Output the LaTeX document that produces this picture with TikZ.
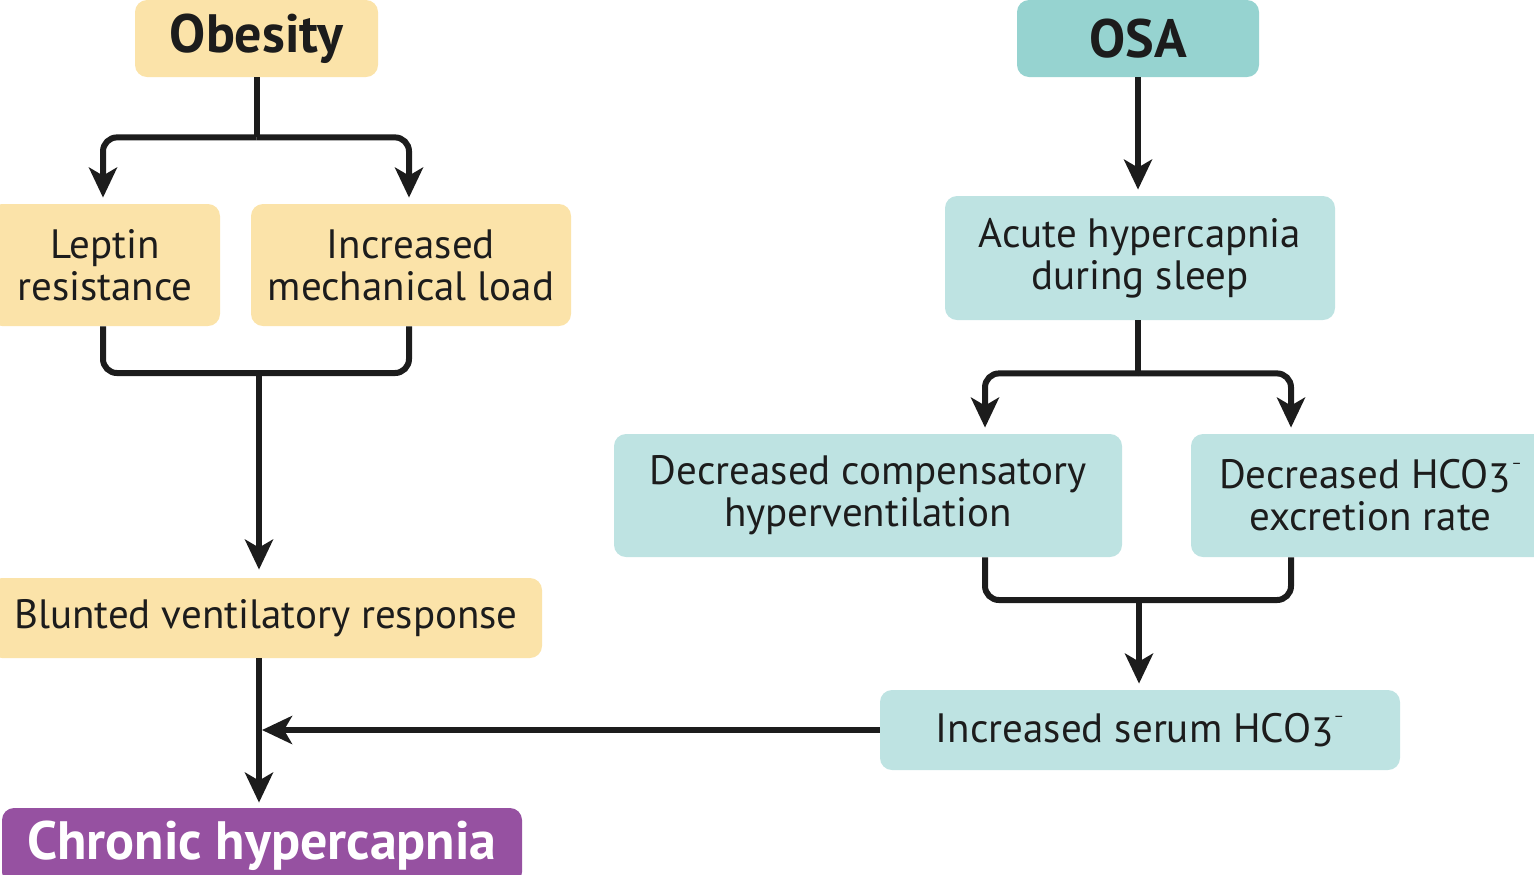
\documentclass[tikz,border=0pt]{standalone}
\usepackage{fontspec}
\setmainfont{PT Sans}
\usetikzlibrary{arrows.meta}
\definecolor{yel}{HTML}{FBE3A9}
\definecolor{tealA}{HTML}{96D3D0}
\definecolor{tealB}{HTML}{BEE3E2}
\definecolor{purp}{HTML}{9651A1}
\definecolor{ink}{HTML}{1C1C1C}
\tikzset{
  box/.style={rounded corners=6pt, inner sep=0pt, align=center, text=ink,
    font=\fontsize{20.5}{21}\selectfont},
  ybox/.style={box, fill=yel},
  tbox/.style={box, fill=tealB},
  ttl/.style={font=\fontsize{27}{28}\selectfont\bfseries},
  ln/.style={draw=ink, line width=3pt, rounded corners=7pt},
  arr/.style={ln, -{Stealth[length=15pt,width=14pt,inset=4pt]}, shorten >=3pt},
}
\newcommand{\hco}{HCO\raisebox{-0.2ex}{3}\raisebox{1.0ex}{\footnotesize –}}
\begin{document}
\begin{tikzpicture}[x=0.5pt,y=-0.5pt]
\clip (0,0) rectangle (1534,874);
\node[ybox, ttl, minimum width=121.5pt, minimum height=38.5pt] (obesity) at (256.5,38.5) {Obesity};
\node[box, ttl, fill=tealA, minimum width=121pt, minimum height=38.5pt] (osa) at (1138,38.5) {OSA};
\node[ybox, minimum width=115pt, minimum height=61pt] (leptin) at (105,265) {Leptin\\resistance};
\node[ybox, minimum width=160pt, minimum height=61pt] (load) at (411,265) {Increased\\mechanical load};
\node[ybox, minimum width=276pt, minimum height=40pt] (blunted) at (266,618) {Blunted ventilatory response};
\node[box, ttl, fill=purp, text=white, minimum width=260pt, minimum height=38pt] (chronic) at (262,846) {Chronic hypercapnia};
\node[tbox, minimum width=195pt, minimum height=62pt] (acute) at (1140,258) {Acute hypercapnia\\during sleep};
\node[tbox, minimum width=254pt, minimum height=61.5pt] (deccomp) at (868,495.5) {Decreased compensatory\\hyperventilation};
\node[tbox, minimum width=179.5pt, minimum height=61.5pt] (dechco) at (1370.5,495.5) {Decreased \hco\\excretion rate};
\node[tbox, minimum width=260pt, minimum height=40pt] (serum) at (1140,730) {Increased serum \hco};

% Obesity branch
\draw[ln] (obesity.south) -- ++(0,60) coordinate (ob1);
\draw[arr] (ob1) -| ([xshift=-1pt]leptin.north);
\draw[arr] (ob1) -| ([xshift=-1pt]load.north);
\draw[ln] ([xshift=-1pt]leptin.south) |- (259,373) coordinate (m1) -| ([xshift=-1pt]load.south);
\draw[arr, shorten >=4pt] (m1) -- (blunted.north -| m1);
\draw[arr, shorten >=2.5pt] (blunted.south -| m1) -- (chronic.north -| m1);
\coordinate (j) at ([xshift=1.5pt]m1 |- serum.west);
\draw[arr, shorten >=0pt] (serum.west) -- (j);

% OSA branch
\draw[arr] (osa.south) -- (acute.north -| osa.south);
\draw[ln] (acute.south -| osa.south) -- ++(0,53) coordinate (a1);
\draw[arr] (a1) -| ([xshift=58.5pt]deccomp.north);
\draw[arr] (a1) -| ([xshift=-39.75pt]dechco.north);
\draw[ln] ([xshift=58.5pt]deccomp.south) |- (1139,600) coordinate (m2) -| ([xshift=-39.75pt]dechco.south);
\draw[arr] (m2) -- (serum.north -| m2);
\end{tikzpicture}
\end{document}
